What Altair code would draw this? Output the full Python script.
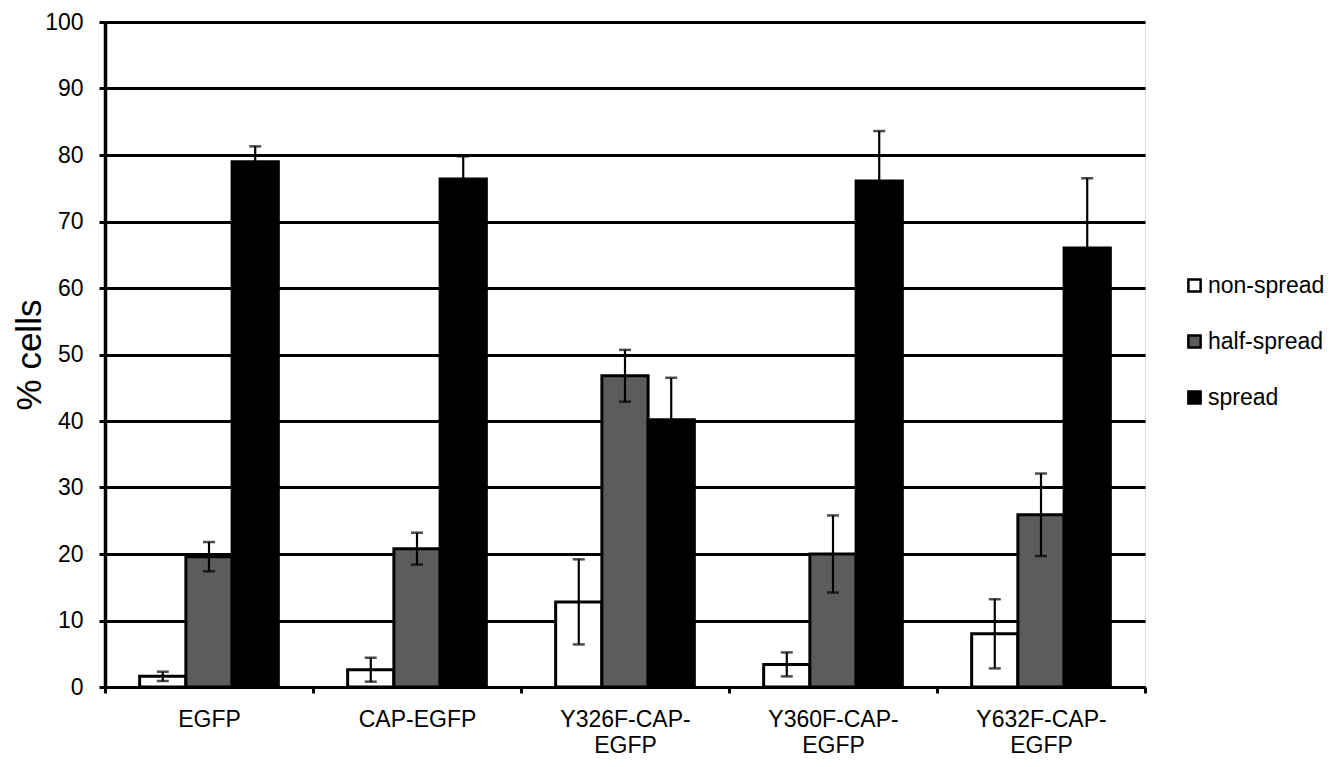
import altair as alt
import pandas as pd

categories = ["EGFP", "CAP-EGFP", "Y326F-CAP-EGFP", "Y360F-CAP-EGFP", "Y632F-CAP-EGFP"]
states = ["non-spread", "half-spread", "spread"]
non_spread = [1.6, 2.6, 12.8, 3.4, 8.0]
non_spread_err = [0.7, 1.8, 6.4, 1.8, 5.2]
half_spread = [19.6, 20.8, 46.8, 20.0, 25.9]
half_spread_err = [2.2, 2.4, 3.9, 5.8, 6.2]
spread = [79.0, 76.4, 40.2, 76.1, 66.0]
spread_err = [2.3, 3.4, 6.3, 7.5, 10.5]
colors = ["#ffffff", "#5c5c5c", "#000000"]

rows = []
for vals, errs, st in [(non_spread, non_spread_err, "non-spread"),
                       (half_spread, half_spread_err, "half-spread"),
                       (spread, spread_err, "spread")]:
    for c, v, e in zip(categories, vals, errs):
        rows.append({"category": c, "state": st, "value": v,
                     "lo": v - e, "hi": v + e})
df = pd.DataFrame(rows)

FONT = "Liberation Sans"

x_enc = alt.X("category:N", sort=categories,
              scale=alt.Scale(paddingInner=0, paddingOuter=0),
              axis=alt.Axis(title=None, labelAngle=0, tickBand="extent",
                            labelFontSize=23, labelFont=FONT, labelColor="black",
                            labelPadding=15, tickSize=6, tickWidth=3, tickColor="black",
                            domainColor="black", domainWidth=3, grid=False,
                            labelLineHeight=26,
                            labelExpr="indexof(datum.label, 'Y') == 0 ? [substring(datum.label, 0, 10), substring(datum.label, 10)] : datum.label"))
xo_enc = alt.XOffset("state:N", sort=states,
                     scale=alt.Scale(paddingOuter=0.75, paddingInner=0))

base = alt.Chart(df)

bars = base.mark_bar(stroke="black", strokeWidth=3).encode(
    x=x_enc,
    xOffset=xo_enc,
    y=alt.Y("value:Q", scale=alt.Scale(domain=[0, 100], nice=False),
            axis=alt.Axis(title="% cells", values=list(range(0, 101, 10)),
                          labelFontSize=23, labelFont=FONT, labelColor="black",
                          labelPadding=16, tickSize=6, tickWidth=3, tickColor="black",
                          domainColor="black", domainWidth=3.5,
                          grid=True, gridColor="black", gridWidth=3, gridOpacity=1,
                          titleFontSize=35, titleFont=FONT, titleFontWeight="normal",
                          titleColor="black", titleX=-76, titleBaseline="middle")),
    color=alt.Color("state:N", sort=states,
                    scale=alt.Scale(domain=states, range=colors),
                    legend=alt.Legend(title=None, orient="none", legendX=1078, legendY=252,
                                      symbolType="square", symbolSize=150,
                                      symbolStrokeColor="black", symbolStrokeWidth=2.5,
                                      labelFontSize=23, labelFont=FONT, labelColor="black",
                                      rowPadding=32, labelOffset=2)),
)

rules = base.mark_rule(color="black", strokeWidth=2.2).encode(
    x=alt.X("category:N", sort=categories),
    xOffset=alt.XOffset("state:N", sort=states),
    y="lo:Q", y2="hi:Q",
)
cap_hi = base.mark_tick(color="black", thickness=2.5, size=12).encode(
    x=alt.X("category:N", sort=categories),
    xOffset=alt.XOffset("state:N", sort=states),
    y="hi:Q",
)
cap_lo = base.mark_tick(color="black", thickness=2.5, size=12).encode(
    x=alt.X("category:N", sort=categories),
    xOffset=alt.XOffset("state:N", sort=states),
    y="lo:Q",
)

chart = alt.layer(bars, rules, cap_hi, cap_lo).properties(
    width=1040, height=665,
    autosize=alt.AutoSizeParams(type="none"),
    padding={"left": 97, "top": 14, "right": 180, "bottom": 72},
).configure_view(stroke="black", strokeWidth=3).configure(background="white")

chart.save("out.html", embed_options={"renderer": "svg", "actions": False})
